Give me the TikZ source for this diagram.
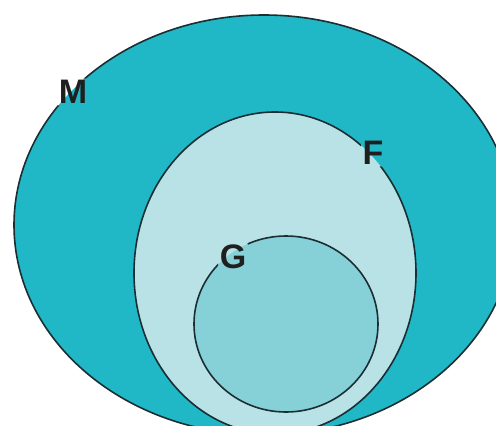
\documentclass[tikz,border=0pt]{standalone}
\usepackage{fontspec}
\setmainfont{Liberation Sans}
\usetikzlibrary{backgrounds}
\definecolor{outerc}{HTML}{20B8C6}
\definecolor{fc}{HTML}{B8E2E6}
\definecolor{gc}{HTML}{86D0D8}
\definecolor{linec}{HTML}{1A2E33}
\tikzset{
  setline/.style={draw=linec, line width=1.6pt},
  setlabel/.style={font=\fontsize{34}{34}\selectfont\bfseries, text=black!88, inner sep=1.5pt}
}
\begin{document}
\begin{tikzpicture}[x=1pt,y=-1pt]
  \useasboundingbox (0,0) rectangle (496,426);
  \node[setlabel] (M) at (73,92) {M};
  \node[setlabel] (F) at (373,153) {F};
  \node[setlabel] (G) at (233,257) {G};
  \begin{scope}[on background layer]
    \begin{scope}
      \clip (0,0) rectangle (496,426);
      \fill[white] (0,0) rectangle (496,426);
      \fill[outerc] (264,225) ellipse [x radius=250pt, y radius=210pt];
      \fill[fc] (275,273) ellipse [x radius=141pt, y radius=161pt];
      \fill[gc] (286,324) ellipse [x radius=92pt, y radius=88pt];
    \end{scope}
    \begin{scope}[even odd rule]
      \clip (0,0) rectangle (496,426)
        (M.south west) rectangle (M.north east)
        (F.south west) rectangle (F.north east)
        (G.south west) rectangle (G.north east);
      \draw[setline] (264,225) ellipse [x radius=250pt, y radius=210pt];
      \draw[setline] (275,273) ellipse [x radius=141pt, y radius=161pt];
      \draw[setline] (286,324) ellipse [x radius=92pt, y radius=88pt];
    \end{scope}
  \end{scope}
\end{tikzpicture}
\end{document}
